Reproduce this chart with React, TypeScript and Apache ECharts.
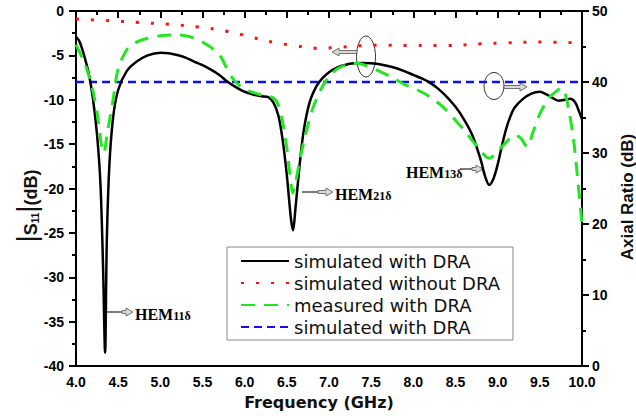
import React, { useEffect, useRef } from "react";
import * as echarts from "echarts";

// Frequency (GHz) / |S11| (dB) – simulated with DRA
const simFreq = [4.0, 4.04, 4.09, 4.15, 4.2, 4.25, 4.29, 4.32, 4.345, 4.365, 4.395, 4.44, 4.5, 4.6, 4.72, 4.85, 5.0, 5.1, 5.2, 5.3, 5.4, 5.5, 5.6, 5.7, 5.8, 5.9, 6.0, 6.1, 6.2, 6.28, 6.34, 6.4, 6.45, 6.5, 6.55, 6.575, 6.6, 6.65, 6.7, 6.77, 6.85, 6.92, 7.0, 7.1, 7.2, 7.3, 7.4, 7.5, 7.6, 7.7, 7.8, 7.9, 8.0, 8.1, 8.2, 8.3, 8.4, 8.5, 8.6, 8.7, 8.8, 8.85, 8.9, 8.95, 9.0, 9.05, 9.1, 9.15, 9.2, 9.3, 9.4, 9.5, 9.58, 9.65, 9.72, 9.8, 9.86, 9.92, 9.96, 10.0];
const simS11 = [-2.9, -3.4, -4.8, -7.0, -9.8, -14.0, -19.5, -28.5, -38.5, -26.0, -17.5, -12.0, -8.9, -6.8, -5.7, -5.0, -4.7, -4.75, -4.95, -5.25, -5.7, -6.1, -6.6, -7.2, -8.0, -8.6, -9.1, -9.4, -9.6, -9.7, -10.3, -11.8, -14.5, -18.5, -23.5, -24.7, -22.5, -17.5, -13.5, -10.3, -8.5, -7.6, -6.9, -6.35, -6.05, -5.9, -5.85, -5.9, -6.0, -6.2, -6.45, -6.8, -7.2, -7.6, -8.1, -8.8, -9.7, -10.8, -12.2, -14.0, -16.8, -18.6, -19.6, -18.9, -17.3, -15.2, -13.3, -11.9, -10.9, -9.9, -9.3, -9.1, -9.4, -9.8, -10.1, -10.0, -9.9, -10.3, -11.2, -12.2];

// simulated without DRA
const noDraFreq = [4.0, 4.4, 4.75, 5.1, 5.45, 5.8, 6.1, 6.35, 6.6, 6.85, 7.1, 7.4, 7.7, 8.0, 8.4, 8.8, 9.1, 9.5, 10.0];
const noDraS11 = [-0.9, -1.1, -1.3, -1.5, -1.8, -2.3, -3.0, -3.55, -3.9, -4.2, -4.1, -3.9, -3.85, -3.9, -3.9, -3.7, -3.6, -3.5, -3.6];

// measured with DRA
const measFreq = [4.0, 4.07, 4.13, 4.2, 4.25, 4.3, 4.33, 4.37, 4.44, 4.5, 4.6, 4.7, 4.84, 5.0, 5.2, 5.35, 5.5, 5.6, 5.7, 5.78, 5.85, 5.95, 6.05, 6.18, 6.3, 6.38, 6.44, 6.5, 6.55, 6.57, 6.6, 6.65, 6.7, 6.8, 6.9, 7.0, 7.1, 7.2, 7.33, 7.45, 7.6, 7.75, 7.9, 8.05, 8.2, 8.35, 8.47, 8.6, 8.7, 8.8, 8.9, 9.0, 9.1, 9.2, 9.27, 9.35, 9.42, 9.5, 9.6, 9.7, 9.76, 9.8, 9.85, 9.9, 9.95, 10.0];
const measS11 = [-3.8, -5.2, -6.6, -9.0, -11.5, -15.0, -16.0, -13.8, -10.0, -6.5, -4.4, -3.6, -3.1, -2.8, -2.7, -2.9, -3.5, -4.1, -4.9, -6.3, -7.5, -8.5, -9.0, -9.4, -9.6, -10.2, -12.0, -15.5, -19.5, -20.5, -19.5, -17.0, -14.8, -11.2, -8.9, -7.4, -6.5, -6.1, -5.9, -6.2, -6.8, -7.5, -8.3, -8.9, -9.7, -10.8, -12.0, -13.4, -14.6, -15.8, -16.6, -15.8, -14.8, -14.0, -14.3, -15.3, -13.6, -11.6, -9.9, -9.0, -8.7, -9.3, -11.5, -14.5, -19.0, -24.0];

// Axial ratio (dB) – simulated with DRA
const arFreq = [4.0, 10.0];
const arValue = [40, 40];

const xTicks = { min: 4, max: 10, interval: 0.5 };
const leftTicks = { min: -40, max: 0, interval: 5 };
const rightTicks = { min: 0, max: 50, interval: 10 };

const legendNames = ["simulated with DRA", "simulated without DRA", "measured with DRA", "simulated with DRA (AR)"];

const pairs = (xs: number[], ys: number[]) => xs.map((x, i) => [x, ys[i]]);

const arrowRight = (x1: number, x2: number, y: number) => ({
  type: "polygon",
  shape: {
    points: [[x1, y - 1.5], [x2 - 7, y - 1.5], [x2 - 7, y - 4], [x2, y], [x2 - 7, y + 4], [x2 - 7, y + 1.5], [x1, y + 1.5]],
  },
  style: { fill: "#d8d8d8", stroke: "#555", lineWidth: 0.8 },
});
const arrowLeft = (x1: number, x2: number, y: number) => ({
  type: "polygon",
  shape: {
    points: [[x1, y - 1.5], [x2 + 7, y - 1.5], [x2 + 7, y - 4], [x2, y], [x2 + 7, y + 4], [x2 + 7, y + 1.5], [x1, y + 1.5]],
  },
  style: { fill: "#d8d8d8", stroke: "#555", lineWidth: 0.8 },
});

const hemRich = {
  a: { fontFamily: "Liberation Serif", fontWeight: "bold", fontSize: 16, color: "#111", lineHeight: 18, verticalAlign: "bottom" },
  b: { fontFamily: "Liberation Serif", fontWeight: "bold", fontSize: 12, color: "#111", lineHeight: 16, verticalAlign: "bottom" },
};

export default function App() {
  const ref = useRef<HTMLDivElement>(null);
  useEffect(() => {
    if (!ref.current) return;
    const chart = echarts.init(ref.current, null, { renderer: "svg" });
    const tickFont = { fontFamily: "Liberation Sans", fontWeight: "bold", fontSize: 14, color: "#000" };
    chart.setOption({
      animation: false,
      backgroundColor: "#fff",
      grid: { left: 76, right: 54, top: 11, bottom: 50, show: true, borderColor: "#000", borderWidth: 2 },
      xAxis: {
        type: "value",
        ...xTicks,
        axisLine: { show: true, lineStyle: { color: "#000", width: 2 } },
        axisTick: { show: true, inside: false, length: 7, lineStyle: { color: "#000", width: 2 } },
        minorTick: { show: true, splitNumber: 2, length: 4, lineStyle: { color: "#000", width: 2 } },
        axisLabel: { ...tickFont, margin: 9, formatter: (v: number) => v.toFixed(1) },
        splitLine: { show: false },
      },
      yAxis: [
        {
          type: "value",
          ...leftTicks,
          position: "left",
          axisLine: { show: true, lineStyle: { color: "#000", width: 2 } },
          axisTick: { show: true, inside: false, length: 7, lineStyle: { color: "#000", width: 2 } },
          minorTick: { show: true, splitNumber: 2, length: 4, lineStyle: { color: "#000", width: 2 } },
          axisLabel: { ...tickFont, margin: 12 },
          splitLine: { show: false },
        },
        {
          type: "value",
          ...rightTicks,
          position: "right",
          axisLine: { show: true, lineStyle: { color: "#000", width: 2 } },
          axisTick: { show: true, inside: false, length: 7, lineStyle: { color: "#000", width: 2 } },
          minorTick: { show: true, splitNumber: 2, length: 4, lineStyle: { color: "#000", width: 2 } },
          axisLabel: { ...tickFont, margin: 10 },
          splitLine: { show: false },
        },
      ],
      legend: {
        orient: "vertical",
        left: 227,
        top: 247,
        padding: [5, 13, 4, 13],
        itemWidth: 48,
        itemHeight: 14,
        itemGap: 4,
        backgroundColor: "#fff",
        borderColor: "#888",
        borderWidth: 1,
        borderRadius: 0,
        data: legendNames,
        itemStyle: { opacity: 0 },
        textStyle: { fontFamily: "DejaVu Sans", fontSize: 18, lineHeight: 18, color: "#111" },
        formatter: (name: string) => name.replace(" (AR)", ""),
      },
      series: [
        {
          name: legendNames[1],
          type: "line",
          data: pairs(noDraFreq, noDraS11),
          smooth: 0.4,
          symbol: "none",
          lineStyle: { color: "#ff1010", width: 3, type: [3, 12] },
          itemStyle: { color: "#ff1010" },
        },
        {
          name: legendNames[3],
          type: "line",
          yAxisIndex: 1,
          data: pairs(arFreq, arValue),
          symbol: "none",
          lineStyle: { color: "#1010ee", width: 2.5, type: [8, 5] },
          itemStyle: { color: "#1010ee" },
        },
        {
          name: legendNames[0],
          type: "line",
          data: pairs(simFreq, simS11),
          smooth: 0.3,
          symbol: "none",
          lineStyle: { color: "#000", width: 2.5 },
          itemStyle: { color: "#000" },
        },
        {
          name: legendNames[2],
          type: "line",
          data: pairs(measFreq, measS11),
          smooth: 0.3,
          symbol: "none",
          lineStyle: { color: "#22e622", width: 3, type: [14, 9] },
          itemStyle: { color: "#22e622" },
        },
      ],
      graphic: [
        {
          type: "text",
          x: 319,
          y: 402,
          style: { text: "Frequency (GHz)", fontFamily: "DejaVu Sans", fontWeight: "bold", fontSize: 16, fill: "#111", align: "center", verticalAlign: "middle" },
        },
        {
          type: "text",
          x: 627,
          y: 197,
          rotation: Math.PI / 2,
          style: { text: "Axial Ratio (dB)", fontFamily: "Liberation Sans", fontWeight: "bold", fontSize: 17, fill: "#111", align: "center", verticalAlign: "middle" },
        },
        {
          type: "text",
          x: 26,
          y: 206,
          rotation: Math.PI / 2,
          style: {
            text: "{bar||}{s|S}{sub|11}{bar||}{d|(dB)}",
            align: "center",
            verticalAlign: "middle",
            rich: {
              bar: { fontFamily: "Liberation Sans", fontSize: 28, fill: "#111", lineHeight: 28, verticalAlign: "bottom" },
              s: { fontFamily: "Liberation Sans", fontWeight: "bold", fontSize: 18, fill: "#111", lineHeight: 24, verticalAlign: "bottom" },
              sub: { fontFamily: "Liberation Sans", fontWeight: "bold", fontSize: 10, fill: "#111", lineHeight: 10, verticalAlign: "bottom" },
              d: { fontFamily: "Liberation Sans", fontWeight: "bold", fontSize: 18, fill: "#111", lineHeight: 24, verticalAlign: "bottom" },
            },
          },
        },
        { type: "line", shape: { x1: 107, y1: 312, x2: 124, y2: 312 }, style: { stroke: "#222", lineWidth: 1.2 } },
        arrowRight(122, 133, 312),
        { type: "text", x: 135, y: 313, style: { text: "{a|HEM}{b|11δ}", verticalAlign: "middle", rich: hemRich } },
        { type: "line", shape: { x1: 302, y1: 192, x2: 322, y2: 192 }, style: { stroke: "#222", lineWidth: 1.2 } },
        arrowRight(318, 333, 192),
        { type: "text", x: 335, y: 193, style: { text: "{a|HEM}{b|21δ}", verticalAlign: "middle", rich: hemRich } },
        { type: "text", x: 406, y: 171, style: { text: "{a|HEM}{b|13δ}", verticalAlign: "middle", rich: hemRich } },
        { type: "line", shape: { x1: 460, y1: 169, x2: 476, y2: 169 }, style: { stroke: "#222", lineWidth: 1.2 } },
        arrowRight(472, 483, 169),
        { type: "ellipse", shape: { cx: 366, cy: 56.5, rx: 9.5, ry: 20.5 }, style: { fill: "none", stroke: "#333", lineWidth: 1 } },
        arrowLeft(357, 332, 52),
        { type: "ellipse", shape: { cx: 494, cy: 86, rx: 10, ry: 13.5 }, style: { fill: "none", stroke: "#333", lineWidth: 1 } },
        arrowRight(504, 527, 87),
      ],
    });
    return () => chart.dispose();
  }, []);
  return <div ref={ref} style={{ position: "fixed", left: 0, top: 0, width: 636, height: 416 }} />;
}
